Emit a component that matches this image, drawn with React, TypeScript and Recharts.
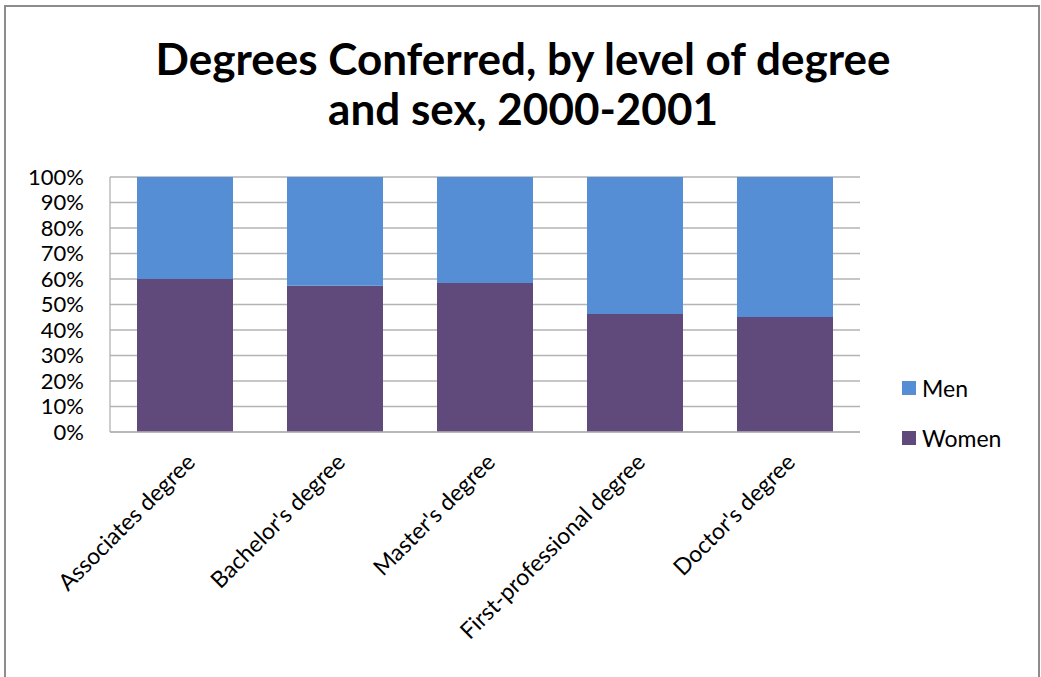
import React from 'react';
import { BarChart, Bar, XAxis, YAxis, CartesianGrid } from 'recharts';

const degreeLevels = [
  "Associates degree",
  "Bachelor's degree",
  "Master's degree",
  "First-professional degree",
  "Doctor's degree",
];
const womenShare = [60.0, 57.4, 58.4, 46.3, 45.1];
const menShare = [40.0, 42.6, 41.6, 53.7, 54.9];
const percentTicks = [0, 10, 20, 30, 40, 50, 60, 70, 80, 90, 100];
const legendItems = [
  { name: 'Men', color: '#558ed5' },
  { name: 'Women', color: '#604a7b' },
];

const data = degreeLevels.map((level, i) => ({
  level,
  Women: womenShare[i],
  Men: menShare[i],
}));

const FONT = 'Lato, "Open Sans", sans-serif';

export default function App() {
  return (
    <div style={{ position: 'absolute', left: 0, top: 0, width: 1041, height: 677, background: '#fff', overflow: 'hidden', fontFamily: FONT }}>
      <div style={{ position: 'absolute', left: 4, top: 5, width: 1032, height: 700, border: '2px solid #8c8c8c' }} />
      <div style={{ position: 'absolute', left: 0, top: 33, width: 1046, textAlign: 'center', fontSize: 44, fontWeight: 700, lineHeight: '50px', color: '#000' }}>
        Degrees Conferred, by level of degree<br />and sex, 2000-2001
      </div>
      <div style={{ position: 'absolute', left: 0, top: 0 }}>
        <BarChart
          width={1041}
          height={677}
          data={data}
          margin={{ top: 177, right: 181, left: 0, bottom: 215 }}
          barSize={96}
        >
          <CartesianGrid vertical={false} stroke="#b3b3b3" strokeWidth={1.3} />
          <XAxis
            dataKey="level"
            height={30}
            interval={0}
            tickLine={false}
            axisLine={{ stroke: '#b3b3b3', strokeWidth: 1.3 }}
            angle={-45}
            textAnchor="end"
            tick={{ fontSize: 23, fill: '#000', fontFamily: FONT }}
            tickMargin={14}
          />
          <YAxis
            width={110}
            domain={[0, 100]}
            ticks={percentTicks}
            interval={0}
            tickFormatter={(v: number) => `${v}%`}
            tickLine={false}
            axisLine={{ stroke: '#b3b3b3', strokeWidth: 1.3 }}
            tickSize={6}
            tickMargin={20}
            tick={{ fontSize: 22, fill: '#000', fontFamily: FONT }}
          />
          <Bar dataKey="Women" stackId="a" fill="#604a7b" isAnimationActive={false} />
          <Bar dataKey="Men" stackId="a" fill="#558ed5" isAnimationActive={false} />
        </BarChart>
      </div>
      {legendItems.map((item, i) => (
        <div key={item.name} style={{ position: 'absolute', left: 902, top: 374 + i * 50, height: 28, display: 'flex', alignItems: 'center', fontSize: 23, color: '#000' }}>
          <span style={{ display: 'inline-block', width: 14, height: 14, background: item.color, marginRight: 6 }} />
          {item.name}
        </div>
      ))}
    </div>
  );
}
